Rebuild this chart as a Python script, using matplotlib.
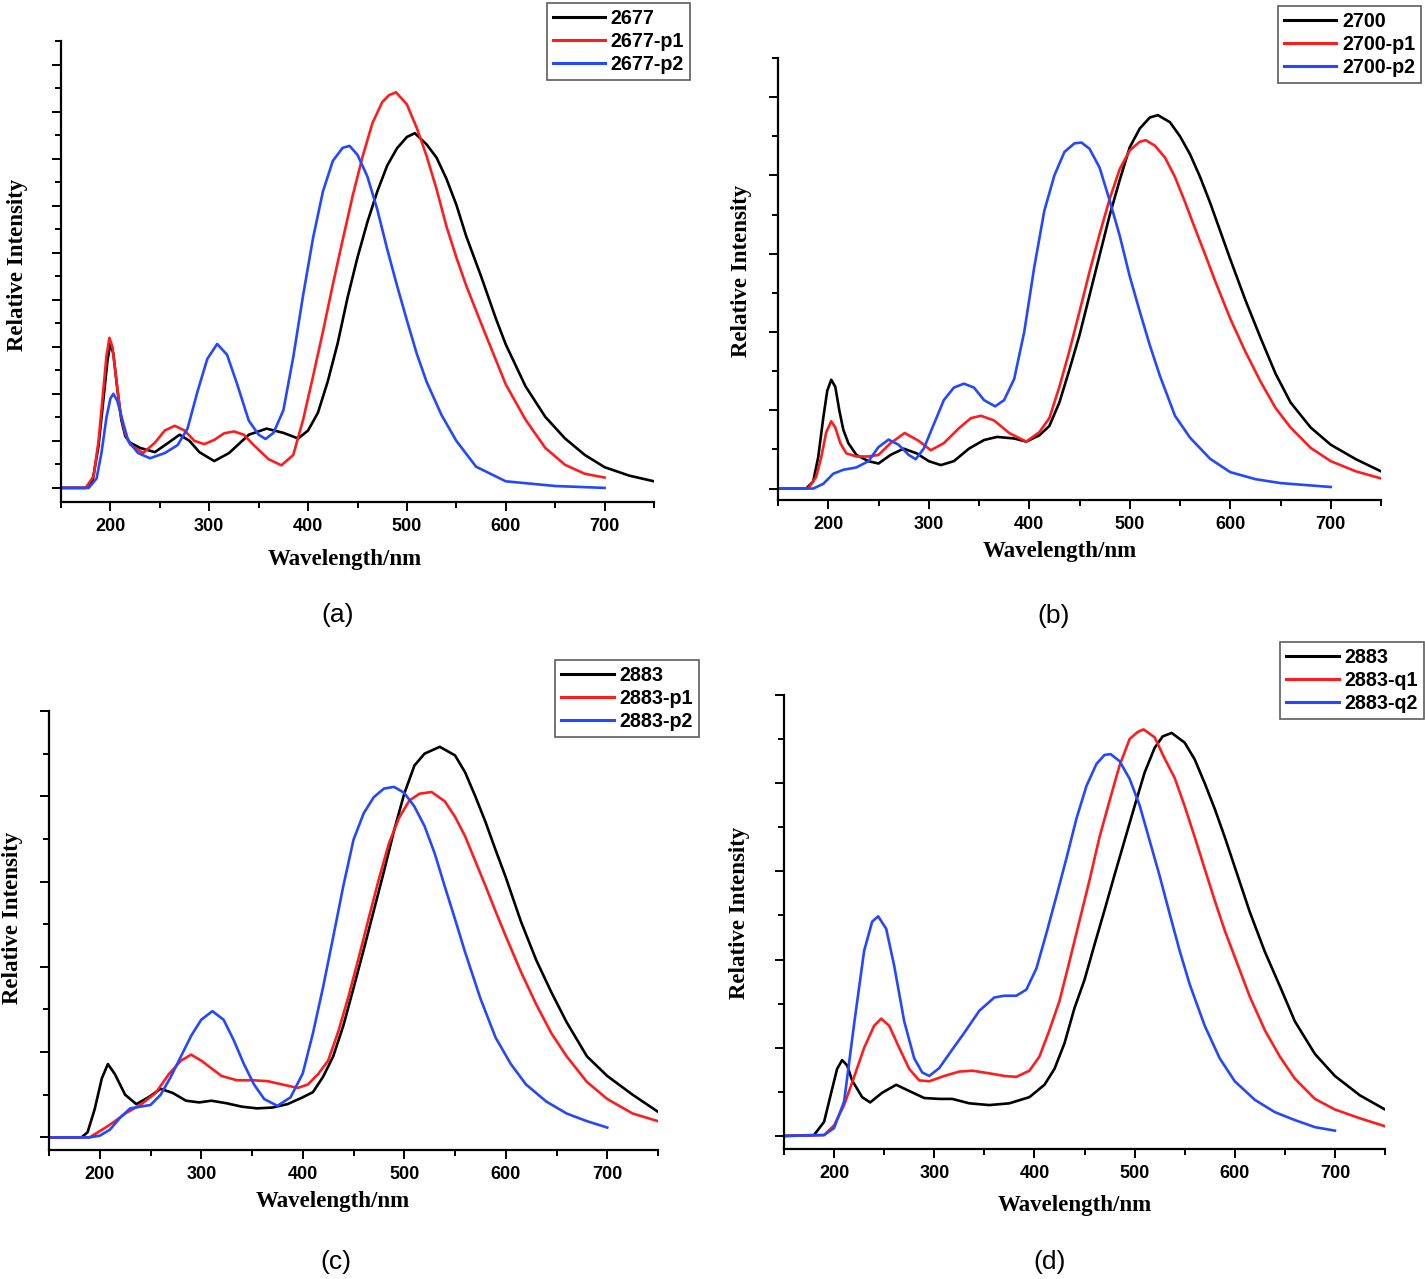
import matplotlib
matplotlib.use("Agg")
import matplotlib.pyplot as plt
from matplotlib.ticker import MultipleLocator, NullFormatter

W, H = 1425, 1279

# ---- panel (a) ----
a_k_x = [150, 175, 182, 188, 193, 197, 200, 203, 207, 211, 215, 220, 230, 245, 260, 270, 280, 290, 305, 320, 340, 358,
         375, 390, 400, 410, 420, 430, 440, 450, 460, 470, 480, 490, 500, 508, 520, 530, 540, 550, 560, 575, 590, 600,
         620, 640, 660, 680, 700, 725, 750]
a_k_y = [0, 0, 0.15, 0.9, 1.9, 2.7, 3.07, 2.85, 2.1, 1.45, 1.1, 0.96, 0.85, 0.76, 0.98, 1.13, 1.0, 0.76, 0.57, 0.74,
         1.13, 1.26, 1.17, 1.05, 1.22, 1.6, 2.27, 3.08, 4.05, 4.9, 5.65, 6.3, 6.85, 7.22, 7.46, 7.54, 7.30, 7.02,
         6.57, 6.02, 5.35, 4.5, 3.6, 3.05, 2.16, 1.51, 1.05, 0.70, 0.44, 0.26, 0.14]
a_r_x = [150, 175, 183, 188, 192, 196, 199, 202, 206, 210, 215, 220, 233, 245, 255, 265, 275, 285, 295, 305, 315, 325,
         335, 345, 360, 373, 385, 395, 405, 415, 425, 435, 445, 455, 465, 475, 482, 489, 500, 510, 520, 530, 540, 550,
         560, 575, 590, 600, 620, 640, 660, 680, 700]
a_r_y = [0, 0, 0.25, 1.0, 1.9, 2.8, 3.19, 3.0, 2.3, 1.6, 1.15, 0.92, 0.74, 0.96, 1.22, 1.32, 1.22, 1.0, 0.93, 1.02,
         1.16, 1.2, 1.13, 0.91, 0.61, 0.48, 0.7, 1.45, 2.37, 3.32, 4.32, 5.27, 6.2, 7.03, 7.75, 8.2, 8.35, 8.41, 8.15,
         7.65, 7.05, 6.35, 5.56, 4.9, 4.3, 3.5, 2.72, 2.2, 1.45, 0.85, 0.49, 0.30, 0.22]
a_b_x = [150, 178, 186, 191, 196, 200, 203, 207, 212, 218, 228, 240, 255, 268, 278, 288, 298, 308, 318, 328, 340, 350,
         357, 365, 375, 385, 395, 405, 415, 425, 435, 442, 450, 460, 470, 480, 490, 500, 510, 520, 535, 550, 570, 600,
         650, 700]
a_b_y = [0, 0, 0.2, 0.75, 1.5, 1.9, 2.0, 1.85, 1.45, 1.0, 0.74, 0.63, 0.74, 0.91, 1.26, 2.04, 2.74, 3.06, 2.83, 2.22,
         1.43, 1.13, 1.04, 1.17, 1.65, 2.78, 4.1, 5.31, 6.3, 6.95, 7.23, 7.27, 7.08, 6.62, 5.92, 5.08, 4.3, 3.56, 2.85,
         2.25, 1.55, 1.0, 0.45, 0.14, 0.04, 0.0]

# ---- panel (b) ----
b_k_x = [150, 178, 185, 190, 195, 199, 203, 207, 211, 215, 220, 228, 240, 250, 262, 275, 288, 300, 312, 325, 340, 355,
         368, 385, 397, 410, 420, 430, 440, 450, 460, 470, 480, 490, 500, 510, 520, 528, 540, 550, 560, 570, 580, 590,
         600, 615, 630, 645, 660, 680, 700, 725, 750]
b_k_y = [0, 0, 0.09, 0.4, 0.9, 1.25, 1.39, 1.3, 1.0, 0.75, 0.58, 0.43, 0.35, 0.32, 0.43, 0.51, 0.45, 0.35, 0.30, 0.35,
         0.51, 0.62, 0.66, 0.64, 0.60, 0.68, 0.80, 1.10, 1.52, 1.96, 2.47, 2.98, 3.49, 3.94, 4.36, 4.60, 4.74, 4.77,
         4.68, 4.50, 4.27, 3.98, 3.65, 3.29, 2.93, 2.41, 1.93, 1.47, 1.10, 0.78, 0.56, 0.375, 0.22]
b_r_x = [150, 180, 188, 193, 198, 203, 207, 212, 218, 228, 240, 250, 262, 276, 290, 302, 315, 330, 342, 352, 365, 380,
         397, 410, 420, 430, 440, 450, 460, 470, 480, 490, 500, 510, 516, 525, 535, 545, 555, 565, 575, 585, 600, 615,
         630, 645, 660, 680, 700, 725, 750]
b_r_y = [0, 0, 0.15, 0.4, 0.72, 0.86, 0.78, 0.58, 0.45, 0.41, 0.41, 0.43, 0.58, 0.71, 0.61, 0.49, 0.58, 0.77, 0.90,
         0.93, 0.87, 0.71, 0.60, 0.72, 0.90, 1.30, 1.76, 2.26, 2.77, 3.25, 3.70, 4.08, 4.32, 4.43, 4.45, 4.38, 4.23,
         3.98, 3.66, 3.32, 2.99, 2.65, 2.17, 1.75, 1.37, 1.03, 0.78, 0.52, 0.35, 0.22, 0.13]
b_b_x = [150, 185, 195, 205, 215, 228, 240, 250, 260, 270, 280, 287, 295, 305, 315, 325, 335, 345, 355, 366, 375, 385,
         395, 405, 415, 425, 435, 445, 452, 460, 470, 480, 490, 500, 510, 520, 530, 545, 560, 580, 600, 625, 650, 700]
b_b_y = [0, 0, 0.06, 0.19, 0.24, 0.27, 0.35, 0.53, 0.625, 0.56, 0.43, 0.375, 0.51, 0.82, 1.13, 1.29, 1.34, 1.29, 1.13,
         1.05, 1.13, 1.40, 2.00, 2.83, 3.55, 4.00, 4.30, 4.41, 4.42, 4.34, 4.10, 3.68, 3.23, 2.71, 2.26, 1.83, 1.44,
         0.93, 0.65, 0.38, 0.21, 0.12, 0.07, 0.02]

# ---- panel (c) ----
c_k_x = [150, 182, 188, 195, 202, 208, 215, 225, 236, 248, 260, 272, 285, 298, 310, 325, 340, 355, 370, 385, 400, 410,
         420, 430, 440, 450, 460, 470, 480, 490, 500, 510, 520, 535, 550, 560, 570, 580, 590, 600, 615, 630, 645, 660,
         680, 700, 725, 750]
c_k_y = [0, 0, 0.06, 0.33, 0.69, 0.86, 0.74, 0.50, 0.39, 0.47, 0.57, 0.52, 0.43, 0.41, 0.43, 0.40, 0.36, 0.34, 0.35,
         0.39, 0.47, 0.53, 0.71, 0.95, 1.31, 1.75, 2.20, 2.66, 3.12, 3.60, 4.03, 4.36, 4.50, 4.58, 4.48, 4.28, 4.00,
         3.70, 3.37, 3.05, 2.53, 2.08, 1.70, 1.35, 0.95, 0.72, 0.50, 0.30]
c_r_x = [150, 190, 205, 215, 225, 240, 255, 268, 280, 290, 300, 310, 320, 335, 350, 365, 380, 395, 405, 415, 425, 435,
         445, 455, 465, 475, 485, 495, 505, 515, 527, 540, 550, 560, 570, 580, 590, 600, 615, 630, 645, 660, 680, 700,
         725, 750]
c_r_y = [0, 0, 0.11, 0.19, 0.28, 0.38, 0.52, 0.74, 0.90, 0.97, 0.90, 0.81, 0.72, 0.67, 0.67, 0.66, 0.62, 0.58, 0.62,
         0.74, 0.90, 1.24, 1.65, 2.10, 2.57, 3.03, 3.45, 3.75, 3.95, 4.03, 4.05, 3.94, 3.76, 3.53, 3.24, 2.95, 2.65,
         2.36, 1.94, 1.56, 1.22, 0.95, 0.65, 0.45, 0.28, 0.19]
c_b_x = [150, 190, 200, 210, 220, 230, 240, 250, 260, 270, 280, 290, 300, 311, 322, 332, 342, 352, 362, 375, 388, 400,
         410, 420, 430, 440, 450, 460, 470, 480, 490, 500, 510, 520, 530, 540, 550, 560, 575, 590, 605, 620, 640, 660,
         680, 700]
c_b_y = [0, 0, 0.02, 0.09, 0.23, 0.34, 0.36, 0.38, 0.50, 0.71, 0.95, 1.19, 1.38, 1.48, 1.38, 1.14, 0.86, 0.62, 0.45,
         0.37, 0.47, 0.75, 1.22, 1.76, 2.35, 2.95, 3.49, 3.80, 3.99, 4.09, 4.11, 4.04, 3.88, 3.65, 3.33, 2.94, 2.56,
         2.17, 1.63, 1.17, 0.86, 0.62, 0.42, 0.28, 0.19, 0.115]

# ---- panel (d) ----
d_k_x = [150, 180, 190, 198, 203, 208, 213, 218, 228, 236, 248, 262, 275, 290, 305, 318, 335, 355, 375, 395, 410, 420,
         430, 440, 450, 460, 470, 480, 490, 500, 510, 520, 528, 537, 550, 560, 570, 580, 590, 600, 615, 630, 645, 660,
         680, 700, 725, 750]
d_k_y = [0, 0.01, 0.16, 0.53, 0.76, 0.86, 0.80, 0.63, 0.44, 0.38, 0.49, 0.58, 0.51, 0.43, 0.42, 0.42, 0.37, 0.35,
         0.37, 0.44, 0.58, 0.76, 1.05, 1.45, 1.77, 2.17, 2.56, 2.96, 3.35, 3.74, 4.12, 4.40, 4.53, 4.57, 4.46, 4.27,
         4.00, 3.71, 3.39, 3.05, 2.54, 2.09, 1.70, 1.30, 0.93, 0.68, 0.46, 0.30]
d_r_x = [150, 190, 200, 210, 220, 230, 240, 247, 255, 265, 275, 285, 295, 310, 325, 338, 355, 370, 382, 395, 405, 415,
         425, 435, 445, 455, 465, 475, 485, 495, 503, 509, 520, 530, 540, 550, 560, 570, 580, 590, 600, 615, 630, 645,
         660, 680, 700, 725, 750]
d_r_y = [0, 0.01, 0.12, 0.35, 0.67, 1.00, 1.25, 1.33, 1.25, 1.00, 0.76, 0.63, 0.62, 0.68, 0.73, 0.74, 0.71, 0.68,
         0.67, 0.74, 0.90, 1.20, 1.53, 1.98, 2.44, 2.90, 3.39, 3.80, 4.20, 4.50, 4.58, 4.61, 4.52, 4.28, 4.06, 3.74,
         3.39, 3.03, 2.67, 2.33, 2.03, 1.58, 1.20, 0.90, 0.65, 0.42, 0.30, 0.20, 0.11]
d_b_x = [150, 190, 200, 210, 220, 230, 238, 244, 252, 260, 270, 280, 288, 295, 305, 318, 330, 345, 360, 370, 382, 392,
         402, 412, 422, 432, 442, 452, 462, 470, 476, 485, 495, 505, 515, 525, 535, 545, 555, 570, 585, 600, 620, 640,
         660, 680, 700]
d_b_y = [0, 0.01, 0.09, 0.39, 1.27, 2.10, 2.43, 2.49, 2.35, 1.93, 1.30, 0.88, 0.72, 0.68, 0.77, 0.98, 1.17, 1.42, 1.57,
         1.59, 1.59, 1.66, 1.90, 2.30, 2.72, 3.15, 3.60, 3.97, 4.22, 4.32, 4.33, 4.25, 4.05, 3.75, 3.35, 2.95, 2.52,
         2.10, 1.72, 1.25, 0.88, 0.62, 0.41, 0.27, 0.18, 0.10, 0.06]

labels_a = ["2677", "2677-p1", "2677-p2"]
labels_b = ["2700", "2700-p1", "2700-p2"]
labels_c = ["2883", "2883-p1", "2883-p2"]
labels_d = ["2883", "2883-q1", "2883-q2"]

colors = ["#000000", "#ff1c1c", "#2448ff"]

fig = plt.figure(figsize=(W / 100, H / 100), dpi=100)


def fx(px):
    return px / W


def fy(py):
    return 1 - py / H


def make_panel(box, ylim, series, labels, leg_box, ylab_pos, xlab_pos, tag, tag_pos):
    l, t, r, b = box
    ax = fig.add_axes([fx(l), fy(b), fx(r) - fx(l), fy(t) - fy(b)])
    for (xs, ys), c, lab in zip(series, colors, labels):
        ax.plot(xs, ys, color=c, lw=1.9, label=lab, solid_joinstyle="round")
    ax.set_xlim(150, 750)
    ax.set_ylim(*ylim)
    ax.xaxis.set_minor_locator(MultipleLocator(50))
    ax.yaxis.set_major_locator(MultipleLocator(1))
    ax.yaxis.set_minor_locator(MultipleLocator(0.5))
    ax.yaxis.set_major_formatter(NullFormatter())
    ax.spines["top"].set_visible(False)
    ax.spines["right"].set_visible(False)
    for s in ("left", "bottom"):
        ax.spines[s].set_linewidth(1.6)
    ax.tick_params(which="major", direction="out", length=6.5, width=1.4)
    ax.tick_params(which="minor", direction="out", length=4.5, width=1.4)
    ax.tick_params(axis="x", pad=5)
    ax.set_xticks([200, 300, 400, 500, 600, 700])
    ax.set_xticklabels(["200", "300", "400", "500", "600", "700"],
                       fontweight="bold", fontfamily="Liberation Sans", fontsize=13)

    lr, lt = leg_box
    leg = ax.legend(loc="upper right", bbox_to_anchor=(fx(lr), fy(lt)), bbox_transform=fig.transFigure,
                    prop={"family": "Liberation Sans", "weight": "bold", "size": 14.2},
                    frameon=True, fancybox=False, handlelength=2.65, handletextpad=0.3,
                    labelspacing=0.2, borderpad=0.3, borderaxespad=0)
    leg.get_frame().set_edgecolor("#333333")
    leg.get_frame().set_linewidth(1.2)
    for ln in leg.get_lines():
        ln.set_linewidth(2.2)

    fig.text(fx(ylab_pos[0]), fy(ylab_pos[1]), "Relative Intensity", rotation=90, ha="center", va="center",
             fontfamily="Liberation Serif", fontweight="bold", fontsize=16.5)
    fig.text(fx(xlab_pos[0]), fy(xlab_pos[1]), "Wavelength/nm", ha="center", va="center",
             fontfamily="Liberation Serif", fontweight="bold", fontsize=16.5)
    fig.text(fx(tag_pos[0]), fy(tag_pos[1]), tag, ha="center", va="center",
             fontfamily="Liberation Sans", fontsize=19)
    return ax


make_panel((61, 41, 654, 502), (-0.30, 9.5),
           [(a_k_x, a_k_y), (a_r_x, a_r_y), (a_b_x, a_b_y)], labels_a,
           (690, 3), (18, 265), (345, 559), "(a)", (338, 615))
make_panel((778, 58, 1381, 500), (-0.146, 5.5),
           [(b_k_x, b_k_y), (b_r_x, b_r_y), (b_b_x, b_b_y)], labels_b,
           (1421, 6), (742, 271), (1060, 552), "(b)", (1054, 616))
make_panel((49, 711, 658, 1150), (-0.148, 5.0),
           [(c_k_x, c_k_y), (c_r_x, c_r_y), (c_b_x, c_b_y)], labels_c,
           (699, 660), (13, 918), (333, 1202), "(c)", (336, 1262))
make_panel((784, 695, 1385, 1149), (-0.148, 5.0),
           [(d_k_x, d_k_y), (d_r_x, d_r_y), (d_b_x, d_b_y)], labels_d,
           (1424, 642), (740, 913), (1075, 1205), "(d)", (1050, 1262))

fig.savefig("out.png", dpi=100)
